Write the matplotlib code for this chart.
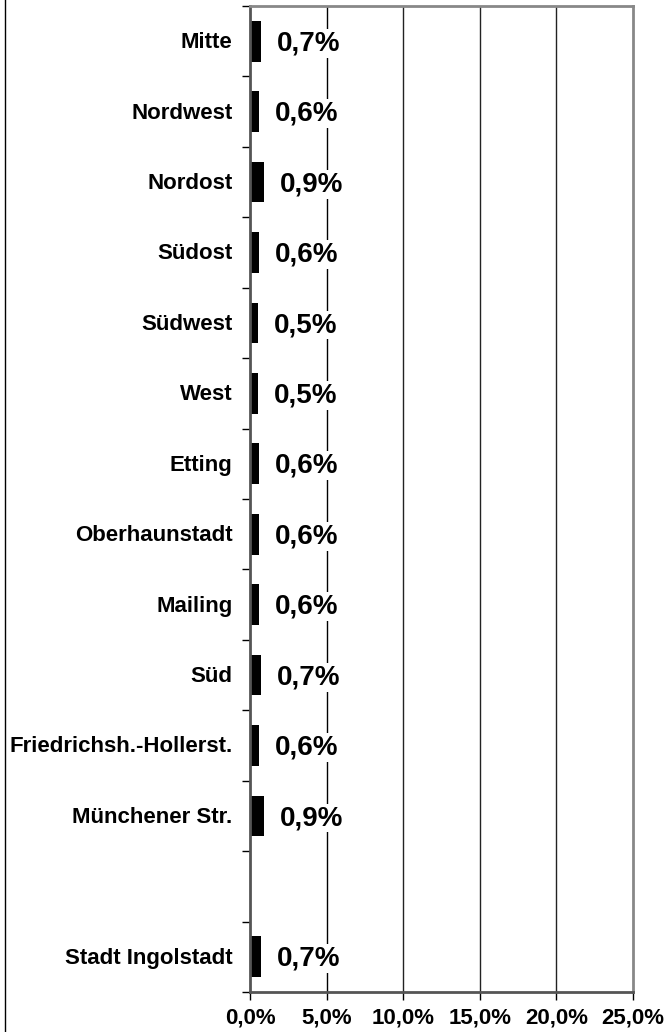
import matplotlib
matplotlib.use("Agg")
import matplotlib.pyplot as plt
from matplotlib.lines import Line2D
from matplotlib.ticker import FixedLocator, FuncFormatter

plt.rcParams["font.family"] = ["Liberation Sans", "DejaVu Sans"]
plt.rcParams["font.weight"] = "bold"

categories = ["Mitte", "Nordwest", "Nordost", "Südost", "Südwest", "West", "Etting",
              "Oberhaunstadt", "Mailing", "Süd", "Friedrichsh.-Hollerst.",
              "Münchener Str.", "", "Stadt Ingolstadt"]
values = [0.7, 0.6, 0.9, 0.6, 0.5, 0.5, 0.6, 0.6, 0.6, 0.7, 0.6, 0.9, None, 0.7]
value_labels = ["0,7%", "0,6%", "0,9%", "0,6%", "0,5%", "0,5%", "0,6%", "0,6%",
                "0,6%", "0,7%", "0,6%", "0,9%", "", "0,7%"]
x_ticks = [0, 5, 10, 15, 20, 25]

fig = plt.figure(figsize=(6.69, 10.32), dpi=100)
ax = fig.add_axes([250 / 669, 1 - 992 / 1032, 383 / 669, 986 / 1032])

pos = list(range(len(categories)))
for i, v in zip(pos, values):
    if v is None:
        continue
    ax.barh(i, v, height=0.58, color="black", zorder=3)
    ax.annotate(value_labels[i], xy=(v, i), xytext=(11.5, -1.5), textcoords="offset points",
                ha="left", va="center", fontsize=20, fontweight="bold",
                bbox=dict(facecolor="white", edgecolor="none", pad=1), zorder=4)

ax.set_xlim(0, 25)
ax.set_ylim(len(categories) - 0.5, -0.5)

# grid lines
for g in x_ticks[1:-1]:
    ax.axvline(g, color="black" if g == 5 else "#222222", lw=1.0, zorder=1)

# category labels placed as text (ticks sit on slot boundaries)
for i, c in zip(pos, categories):
    ax.text(-1.15, i + 0.02, c, ha="right", va="center", fontsize=16, fontweight="bold",
            transform=ax.transData)

ax.yaxis.set_major_locator(FixedLocator([p - 0.5 for p in range(len(categories) + 1)]))
ax.set_yticklabels([])
ax.xaxis.set_major_locator(FixedLocator(x_ticks))
ax.xaxis.set_major_formatter(FuncFormatter(lambda x, _: f"{x:.1f}%".replace(".", ",")))
ax.tick_params(axis="both", direction="out", length=6, width=1, color="black")
ax.tick_params(axis="x", pad=5, labelsize=16)
for lab in ax.get_xticklabels():
    lab.set_fontweight("bold")

ax.spines["left"].set_color("#555555")
ax.spines["bottom"].set_color("#555555")
ax.spines["top"].set_color("#888888")
ax.spines["right"].set_color("#888888")
for s in ax.spines.values():
    s.set_linewidth(2)
    s.set_zorder(5)

# left frame line of the original figure
fig.add_artist(Line2D([5 / 669, 5 / 669], [0, 1], color="black", lw=1, transform=fig.transFigure))

fig.savefig("out.png", dpi=100)
